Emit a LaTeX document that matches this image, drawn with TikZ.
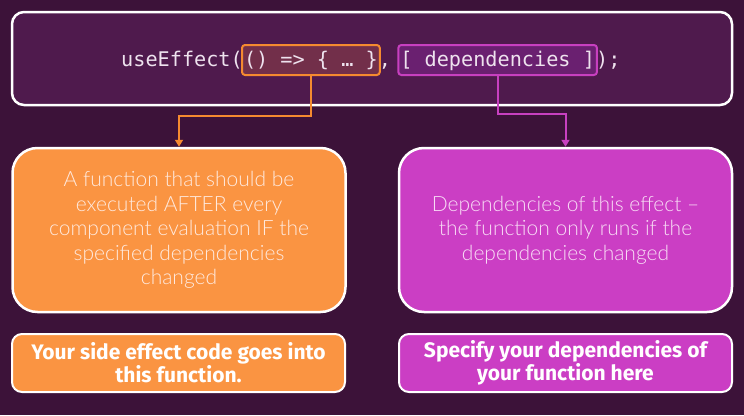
\documentclass[tikz,border=0pt]{standalone}
\usepackage{fontspec}
\setmainfont{Lato}
\newfontfamily\lightfont{Lato Light}
\newfontfamily\codefont{DejaVu Sans Mono}
\newfontfamily\boldfont{Fira Sans}
\usetikzlibrary{arrows.meta,calc}
\definecolor{bg}{HTML}{3C1239}
\definecolor{topfill}{HTML}{4F1A4D}
\definecolor{orangefill}{HTML}{FA9442}
\definecolor{orangeline}{HTML}{F58A30}
\definecolor{orangehl}{HTML}{722F4A}
\definecolor{magfill}{HTML}{CB3EC4}
\definecolor{magline}{HTML}{C840C0}
\definecolor{maghl}{HTML}{6A2070}
\definecolor{codetext}{HTML}{EEE2EE}
\definecolor{otext}{HTML}{FFEADF}
\definecolor{mtext}{HTML}{F8DCF5}
\tikzset{
  codetxt/.style={font=\codefont\fontsize{20.2}{24}\selectfont, text=codetext, inner xsep=0pt, inner ysep=5pt, text height=16pt, text depth=4pt, anchor=base west},
  hlbox/.style={inner xsep=2pt, rounded corners=3pt, line width=2pt},
  bigbox/.style={draw=white, line width=2.5pt, rounded corners=25pt, minimum width=333pt, minimum height=164pt, align=center, font=\lightfont\fontsize{21}{24.5}\selectfont},
  notebox/.style={draw=white, line width=2pt, rounded corners=10pt, minimum width=333pt, minimum height=58pt, align=center, text=white, font=\boldfont\bfseries\fontsize{21}{23}\selectfont},
  conn/.style={line width=2pt, -{Triangle[width=8pt,length=7pt]}}
}
\begin{document}
\begin{tikzpicture}[x=1pt,y=-1pt]
\fill[bg] (0,0) rectangle (744,415);
\useasboundingbox (0,0) rectangle (744,415);

\node[draw=white, fill=topfill, line width=2.5pt, rounded corners=12pt, minimum width=720pt, minimum height=93pt] (top) at (372,58.5) {};

\node[codetxt] (pre) at (121,66) {useEffect(};
\node[codetxt, hlbox, fill=orangehl, draw=orangeline] (fn) at ($(pre.base east)+(-2,0)$) {() => \{ … \}};
\node[codetxt] (comma) at ($(fn.base east)+(-2,0)$) {,};
\node[codetxt, hlbox, fill=maghl, draw=magline] (deps) at ($(comma.base east)+(6,0)$) {[ dependencies ]};
\node[codetxt] (post) at ($(deps.base east)+(-2,0)$) {);};

\node[bigbox, fill=orangefill, text=otext] (obox) at (179,230) {A function that should be\\executed AFTER every\\component evaluation IF the\\specified dependencies\\changed};
\node[bigbox, fill=magfill, text=mtext] (mbox) at (565.5,230) {Dependencies of this effect –\\the function only runs if the\\dependencies changed};

\node[notebox, fill=orangefill] (onote) at (178.5,363) {Your side effect code goes into\\this function.};
\node[notebox, fill=magfill] (mnote) at (565.5,363) {Specify your dependencies of\\your function here};

\draw[conn, orangeline] (fn.south) -- ++(0,40) -| (obox.north);
\draw[conn, magline] (deps.south) -- ++(0,38) -| (mbox.north);
\end{tikzpicture}
\end{document}
